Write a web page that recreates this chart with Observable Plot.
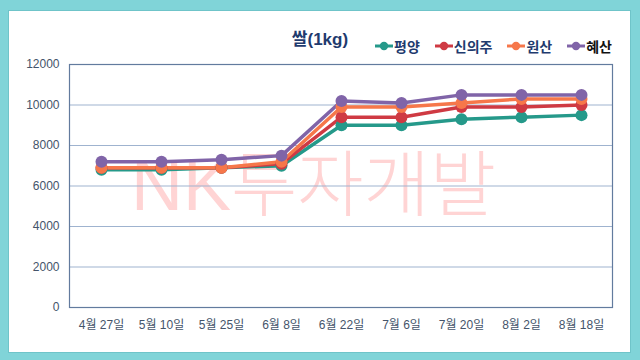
<!DOCTYPE html>
<html><head><meta charset="utf-8">
<script src="https://cdn.jsdelivr.net/npm/d3@7"></script>
<script src="https://cdn.jsdelivr.net/npm/@observablehq/plot@0.6"></script>
<style>
html,body{margin:0;padding:0;}
body{width:640px;height:360px;background:#80d4d8;position:relative;overflow:hidden;font-family:"Liberation Sans","Noto Sans CJK KR",sans-serif;}
#inner{position:absolute;left:9px;top:11px;width:621px;height:341px;background:#fff;box-shadow:0 0 0 1px #6fc4c9;}
#title{position:absolute;left:220px;width:200px;top:25px;text-align:center;font-weight:bold;font-size:17px;color:#1f3b6e;}
#legend{position:absolute;left:375px;top:36px;display:flex;gap:15px;font-weight:bold;font-size:14px;color:#1f3b6e;}
#legend .item{display:flex;align-items:center;gap:1px;}
#wm{position:absolute;left:131px;top:126px;font-size:72px;color:#ffd4d4;font-family:"Liberation Sans","Noto Sans CJK KR",sans-serif;font-weight:300;white-space:nowrap;}
#chart{position:absolute;left:0;top:56px;}
</style></head>
<body>
<div id="inner"></div>
<div id="wm">NK투자개발</div>
<div id="title">쌀(1kg)</div>
<div id="legend"></div>
<div id="chart"></div>
<script>
const dates = ["4월 27일","5월 10일","5월 25일","6월 8일","6월 22일","7월 6일","7월 20일","8월 2일","8월 18일"];
const seriesNames = ["평양","신의주","원산","혜산"];
const pyongyang = [6800,6800,6900,7000,9000,9000,9300,9400,9500];
const sinuiju   = [6900,6900,6900,7100,9400,9400,9900,9900,10000];
const wonsan    = [6900,6900,6900,7200,9900,9900,10100,10300,10300];
const hyesan    = [7200,7200,7300,7500,10200,10100,10500,10500,10500];
const yTicks = [0,2000,4000,6000,8000,10000,12000];
const colors = ["#25998a","#cf3a43","#f6774a","#8064a8"];

const values = [pyongyang, sinuiju, wonsan, hyesan];
const data = [];
seriesNames.forEach((s, si) => dates.forEach((d, i) => data.push({series: s, date: d, value: values[si][i]})));

const chart = Plot.plot({
  width: 640, height: 294,
  marginLeft: 69, marginRight: 28, marginTop: 8, marginBottom: 43,
  style: {background: "transparent", fontFamily: "Liberation Sans, Noto Sans CJK KR, sans-serif", fontSize: "12px", color: "#44546a"},
  x: {type: "point", domain: dates, padding: 0.5, label: null},
  y: {domain: [0, 12000], label: null},
  color: {domain: seriesNames, range: colors},
  marks: [
    Plot.ruleY(yTicks, {stroke: "#9fb3cf", strokeWidth: 1}),
    Plot.frame({stroke: "#627b9e", strokeWidth: 1.2}),
    Plot.axisX({tickSize: 0, tickPadding: 13, fill: "#44546a", fontSize: 12}),
    Plot.axisY({ticks: yTicks, tickSize: 0, tickPadding: 10, fill: "#44546a", fontSize: 12, tickFormat: d => String(d)}),
    Plot.line(data, {x: "date", y: "value", z: "series", stroke: "series", strokeWidth: 3.5}),
    Plot.dot(data, {x: "date", y: "value", fill: "series", r: 6})
  ]
});
document.getElementById("chart").appendChild(chart);

const legend = document.getElementById("legend");
seriesNames.forEach((s, i) => {
  const item = document.createElement("div");
  item.className = "item";
  item.innerHTML = `<svg width="18" height="10"><line x1="0" y1="5" x2="18" y2="5" stroke="${colors[i]}" stroke-width="3"/><circle cx="9" cy="5" r="4.2" fill="${colors[i]}"/></svg><span style="${i===3?'color:#111':''}">${s}</span>`;
  legend.appendChild(item);
});
</script>
</body></html>
